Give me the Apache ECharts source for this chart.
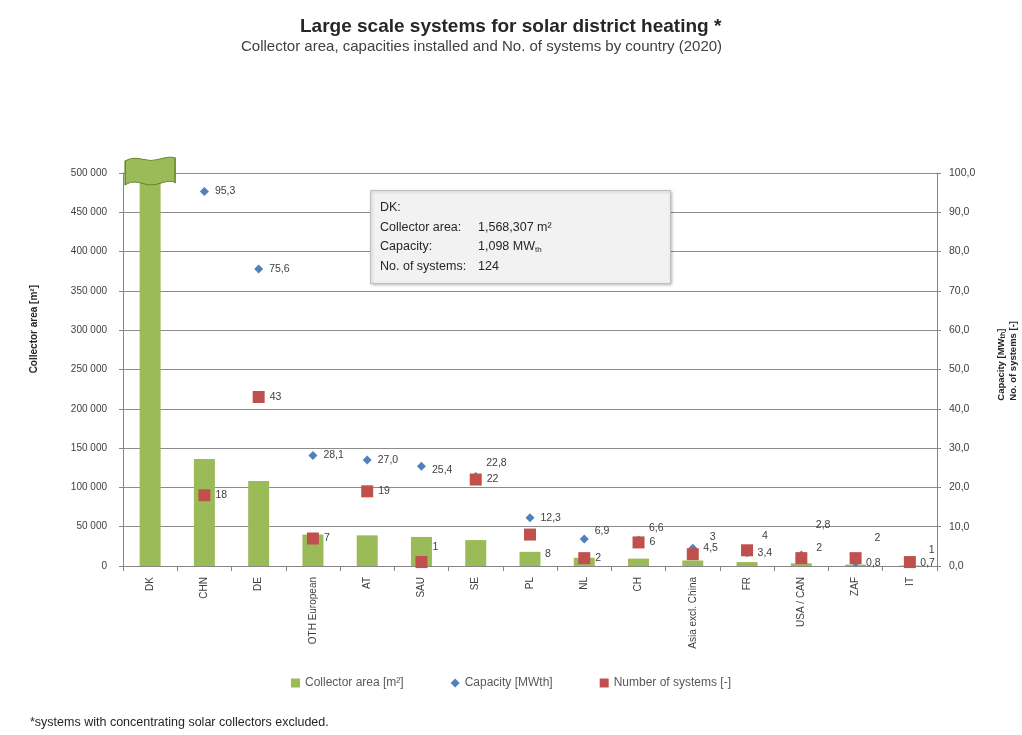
<!DOCTYPE html>
<html>
<head>
<meta charset="utf-8">
<script src="https://cdn.jsdelivr.net/npm/echarts@6/dist/echarts.min.js"></script>
<style>html,body{margin:0;padding:0;background:#fff}#c{width:1022px;height:735px}</style>
</head>
<body>
<div id="c"></div>
<script>
const categories = ['DK','CHN','DE','OTH European','AT','SAU','SE','PL','NL','CH','Asia excl. China','FR','USA / CAN','ZAF','IT'];
const collectorArea = [1568307, 136000, 108000, 40000, 39000, 37000, 33000, 18000, 10500, 9400, 7000, 5000, 3400, 1800, 600];
const capacity = [1098, 95.3, 75.6, 28.1, 27.0, 25.4, 22.8, 12.3, 6.9, 6.6, 4.5, 3.4, 2.8, 0.8, 0.7];
const systems = [124, 18, 43, 7, 19, 1, 22, 8, 2, 6, 3, 4, 2, 2, 1];
const leftTicks = {min: 0, max: 500000, interval: 50000};
const rightTicks = {min: 0, max: 100, interval: 10};

// label placement styles (not data)
const capLabelOffset = [[0,0],[0,0],[0,0],[0,0],[0,0],[0,4],[0,-13],[0,0],[0,-8],[0,-12],[0,0],[0,0],[4,-30],[0,0],[0,0]];
const sysLabelOffset = [[0,0],[0,0],[0,0],[0,0],[0,0],[0,-15],[0,0],[4,20],[0,0],[0,0],[6,-17],[4,-14],[4,-10],[8,-20],[8,-12]];

const fmtComma = v => v.toFixed(1).replace('.', ',');
const fmtSpace = v => String(v).replace(/\B(?=(\d{3})+(?!\d))/g, ' ');

const chart = echarts.init(document.getElementById('c'));
const txt = '#404040';
const font = 'Liberation Sans';

chart.setOption({
  animation: false,
  textStyle: {fontFamily: font},
  title: [
    {
      text: 'Large scale systems for solar district heating *',
      left: 295, top: 12,
      textStyle: {fontSize: 19, fontWeight: 'bold', color: '#262626', fontFamily: font}
    },
    {
      text: 'Collector area, capacities installed and No. of systems by country (2020)',
      left: 236, top: 34,
      textStyle: {fontSize: 15, fontWeight: 'normal', color: '#404040', fontFamily: font}
    }
  ],
  legend: {
    bottom: 41, left: 'center', itemGap: 47, itemWidth: 9, itemHeight: 9,
    textStyle: {fontSize: 12, color: '#595959'},
    data: [
      {name: 'Collector area [m²]', icon: 'rect'},
      {name: 'Capacity [MWth]', icon: 'diamond'},
      {name: 'Number of systems [-]', icon: 'rect'}
    ]
  },
  grid: {left: 123, right: 85, top: 173, bottom: 169},
  xAxis: {
    type: 'category', data: categories,
    axisLine: {lineStyle: {color: '#868686'}},
    axisTick: {show: true, alignWithLabel: false, lineStyle: {color: '#868686'}},
    axisLabel: {rotate: 90, fontSize: 10, color: txt, margin: 11}
  },
  yAxis: [
    {
      type: 'value', min: leftTicks.min, max: leftTicks.max, interval: leftTicks.interval,
      axisLine: {show: true, lineStyle: {color: '#868686'}},
      axisTick: {show: true, length: 4, lineStyle: {color: '#868686'}},
      axisLabel: {fontSize: 10, color: txt, formatter: fmtSpace, margin: 16},
      splitLine: {lineStyle: {color: '#8c8c8c', width: 1}}
    },
    {
      type: 'value', min: rightTicks.min, max: rightTicks.max, interval: rightTicks.interval,
      position: 'right',
      axisLine: {show: true, lineStyle: {color: '#868686'}},
      axisTick: {show: true, length: 4, lineStyle: {color: '#868686'}},
      axisLabel: {fontSize: 10.5, color: txt, formatter: fmtComma, margin: 12},
      splitLine: {show: false}
    }
  ],
  series: [
    {
      name: 'Collector area [m²]', type: 'bar', yAxisIndex: 0, barWidth: 21,
      itemStyle: {color: '#9bbb59'}, data: collectorArea, clip: true,
      markPoint: {
        silent: true,
        symbol: 'path://M0,4 C8,-1 14,2 22,3 C32,5 42,-2 50,1 L50,24 C42,20 32,28 22,26 C14,24 8,22 0,26 Z',
        symbolSize: [50, 28], symbolOffset: [0, -2],
        itemStyle: {color: '#9bbb59', borderColor: '#5a7a26', borderWidth: 1},
        label: {show: false},
        data: [{coord: [categories[0], leftTicks.max]}]
      },
      z: 2
    },
    {
      name: 'Capacity [MWth]', type: 'scatter', yAxisIndex: 1, symbol: 'diamond', symbolSize: 9,
      clip: true, itemStyle: {color: '#4f81bd', opacity: 1}, z: 3,
      data: capacity.map((v, i) => ({
        value: v,
        label: {show: i > 0, position: 'right', offset: capLabelOffset[i], distance: 6,
          formatter: p => fmtComma(p.value), fontSize: 10.5, color: txt}
      }))
    },
    {
      name: 'Number of systems [-]', type: 'scatter', yAxisIndex: 1, symbol: 'rect', symbolSize: 12,
      clip: true, itemStyle: {color: '#c0504d', opacity: 1}, z: 4,
      data: systems.map((v, i) => ({
        value: v,
        label: {show: i > 0, position: 'right', offset: sysLabelOffset[i], distance: 5,
          formatter: p => String(p.value), fontSize: 10.5, color: txt}
      }))
    }
  ],
  graphic: [
    {type: 'text', left: 29, top: 285, rotation: Math.PI / 2,
      style: {text: 'Collector area [m²]', font: 'bold 10px "Liberation Sans"', fill: '#262626'}},
    {type: 'text', left: 995, top: 321, rotation: Math.PI / 2,
      style: {text: 'Capacity [MW{s|th}]\nNo. of systems [-]', font: 'bold 9.5px "Liberation Sans"', fill: '#262626', align: 'center', lineHeight: 12,
        rich: {s: {fontSize: 7, fontWeight: 'bold', fill: '#262626', padding: [4, 0, 0, 0]}}}},
    {type: 'rect', left: 370, top: 190, z: 10,
      shape: {width: 300, height: 93},
      style: {fill: '#f2f2f2', stroke: '#bfbfbf', lineWidth: 1, shadowBlur: 3, shadowColor: 'rgba(0,0,0,0.25)', shadowOffsetX: 1, shadowOffsetY: 1}},
    {type: 'text', left: 380, top: 198, z: 11,
      style: {
        text: 'DK:\n{a|Collector area:}1,568,307 m²\n{a|Capacity:}1,098 MW{s|th}\n{a|No. of systems:}124',
        font: '12.5px "Liberation Sans"', fill: '#262626', lineHeight: 19.5,
        rich: {a: {width: 98, fontSize: 12.5, fill: '#262626'}, s: {fontSize: 8, padding: [7, 0, 0, 0], fill: '#262626'}}
      }},
    {type: 'text', left: 30, top: 716,
      style: {text: '*systems with concentrating solar collectors excluded.', font: '12.5px "Liberation Sans"', fill: '#262626'}}
  ]
});
</script>
</body>
</html>
